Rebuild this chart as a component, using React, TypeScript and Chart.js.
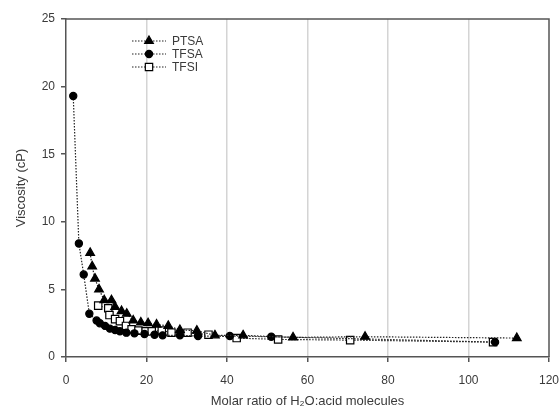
import React, { useEffect, useRef } from "react";
import { Chart, registerables } from "chart.js";
import { drawPoint } from "chart.js/helpers";

Chart.register(...registerables);

const seriesNames = ["PTSA", "TFSA", "TFSI"];

const ptsaX = [6.0, 6.5, 7.2, 8.2, 9.5, 11.3, 12.2, 13.8, 15.1, 16.7, 18.6, 20.4, 22.5, 25.4, 28.3, 32.5, 37, 44, 56.4, 74.3, 112];
const ptsaY = [7.7, 6.7, 5.8, 5.0, 4.2, 4.2, 3.7, 3.4, 3.2, 2.7, 2.55, 2.5, 2.4, 2.3, 2.0, 1.95, 1.6, 1.6, 1.45, 1.5, 1.4];

const tfsaX = [1.8, 3.2, 4.4, 5.8, 7.6, 8.4, 9.7, 10.9, 12.2, 13.4, 15.0, 17.0, 19.5, 22, 24, 28.3, 32.8, 40.7, 51, 106.6];
const tfsaY = [19.3, 8.4, 6.1, 3.2, 2.7, 2.5, 2.3, 2.1, 2.0, 1.9, 1.8, 1.75, 1.7, 1.65, 1.6, 1.6, 1.55, 1.55, 1.5, 1.1];

const tfsiX = [8.0, 10.5, 10.8, 12.2, 13.4, 14.9, 16.3, 18, 19.8, 21.3, 23.8, 26.2, 30.2, 35.4, 42.4, 52.7, 70.6, 106.1];
const tfsiY = [3.8, 3.6, 3.1, 2.8, 2.65, 2.3, 2.05, 1.95, 1.9, 1.9, 1.95, 1.8, 1.8, 1.65, 1.4, 1.3, 1.25, 1.1];

const xTicks = [0, 20, 40, 60, 80, 100, 120];
const yTicks = [0, 5, 10, 15, 20, 25];

const FONT = "'Liberation Sans', Arial, sans-serif";
const TEXT = "#3a3a3a";
const AXIS = "#555555";

const pts = (xs: number[], ys: number[]) => xs.map((x, i) => ({ x, y: ys[i] }));

const styles = [
  { pointStyle: "triangle", radius: 5, bg: "#000000" },
  { pointStyle: "circle", radius: 3.6, bg: "#000000" },
  { pointStyle: "rect", radius: 5.2, bg: "#ffffff" },
];

const framePlugin = {
  id: "frame",
  afterDatasetsDraw(chart: any) {
    const { ctx, chartArea } = chart;
    ctx.save();
    ctx.strokeStyle = AXIS;
    ctx.lineWidth = 1.5;
    ctx.beginPath();
    ctx.moveTo(chartArea.left, chartArea.top);
    ctx.lineTo(chartArea.right, chartArea.top);
    ctx.lineTo(chartArea.right, chartArea.bottom);
    ctx.stroke();
    ctx.restore();
  },
};

const legendPlugin = {
  id: "customLegend",
  afterDraw(chart: any) {
    const { ctx } = chart;
    const rows = [41, 54, 67];
    ctx.save();
    chart.data.datasets.forEach((ds: any, i: number) => {
      const y = rows[i];
      ctx.strokeStyle = "#222";
      ctx.lineWidth = 1.2;
      ctx.setLineDash([1.5, 1.5]);
      ctx.beginPath();
      ctx.moveTo(132, y);
      ctx.lineTo(166, y);
      ctx.stroke();
      ctx.setLineDash([]);
      ctx.fillStyle = ds.pointBackgroundColor;
      ctx.strokeStyle = "#000";
      ctx.lineWidth = 1.2;
      drawPoint(ctx, { pointStyle: ds.pointStyle, radius: ds.pointRadius, rotation: 0, borderWidth: 1.2 }, 149, y);
      ctx.fillStyle = TEXT;
      ctx.font = `12px ${FONT}`;
      ctx.textBaseline = "middle";
      ctx.textAlign = "left";
      ctx.fillText(ds.label, 172, y + 1);
    });
    ctx.restore();
  },
};

export default function App() {
  const ref = useRef<HTMLCanvasElement | null>(null);

  useEffect(() => {
    if (!ref.current) return;
    const sets = [pts(ptsaX, ptsaY), pts(tfsaX, tfsaY), pts(tfsiX, tfsiY)];
    const chart = new Chart(ref.current, {
      type: "line",
      data: {
        datasets: sets.map((d, i) => ({
          label: seriesNames[i],
          data: d,
          borderColor: "#222",
          borderWidth: 1.2,
          borderDash: [1.5, 1.5],
          pointStyle: styles[i].pointStyle as any,
          pointRadius: styles[i].radius,
          pointBackgroundColor: styles[i].bg,
          pointBorderColor: "#000",
          pointBorderWidth: 1.2,
          fill: false,
          tension: 0,
        })),
      },
      options: {
        animation: false,
        responsive: false,
        events: [],
        layout: { padding: { left: 0, top: 19, right: 11, bottom: 0 } },
        plugins: { legend: { display: false }, tooltip: { enabled: false } },
        scales: {
          x: {
            type: "linear",
            min: 0,
            max: 120,
            afterBuildTicks: (s: any) => {
              s.ticks = xTicks.map((v) => ({ value: v }));
            },
            afterFit: (s: any) => {
              s.height = 55;
              s.paddingLeft = 0;
              s.paddingRight = 0;
            },
            grid: {
              color: (c: any) => (c.tick && (c.tick.value === 0 || c.tick.value === 120) ? "rgba(0,0,0,0)" : "#d4d4d4"),
              lineWidth: 1.5,
              tickColor: AXIS,
              tickLength: 5,
              drawOnChartArea: true,
            },
            border: { color: AXIS, width: 1.5 },
            ticks: { color: TEXT, font: { family: FONT, size: 12 }, padding: 11, maxRotation: 0 },
            title: {
              display: true,
              text: "Molar ratio of H\u2082O:acid molecules",
              color: TEXT,
              font: { family: FONT, size: 13 },
              padding: { top: 0, bottom: 3 },
            },
          },
          y: {
            type: "linear",
            min: 0,
            max: 25,
            afterBuildTicks: (s: any) => {
              s.ticks = yTicks.map((v) => ({ value: v }));
            },
            afterFit: (s: any) => {
              s.width = 66;
              s.paddingTop = 0;
              s.paddingBottom = 0;
            },
            grid: { drawOnChartArea: false, tickColor: AXIS, tickLength: 5, lineWidth: 1.5 },
            border: { color: AXIS, width: 1.5 },
            ticks: { color: TEXT, font: { family: FONT, size: 12 }, padding: 6 },
            title: {
              display: true,
              text: "Viscosity (cP)",
              color: TEXT,
              font: { family: FONT, size: 13 },
              padding: { top: 14, bottom: 0 },
            },
          },
        },
      },
      plugins: [framePlugin, legendPlugin],
    });
    return () => chart.destroy();
  }, []);

  return (
    <div style={{ position: "absolute", left: 0, top: 0, width: 560, height: 412, background: "#fff" }}>
      <canvas ref={ref} width={560} height={412} style={{ display: "block" }} />
    </div>
  );
}
